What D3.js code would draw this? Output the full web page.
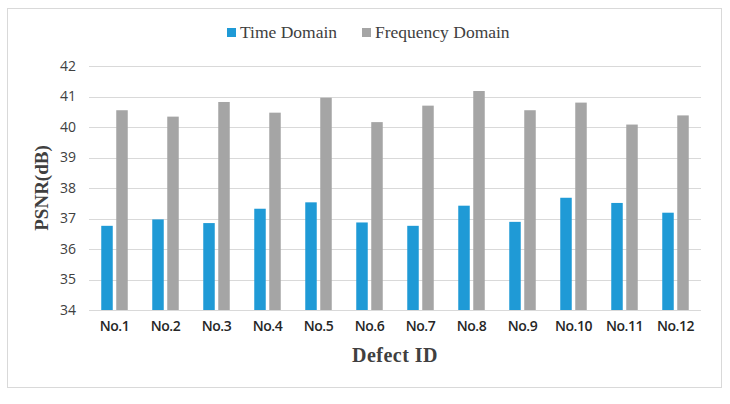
<!DOCTYPE html>
<html><head><meta charset="utf-8">
<script src="https://cdn.jsdelivr.net/npm/d3@7"></script>
<style>body{margin:0;background:#fff}svg{display:block}</style>
</head><body><svg id="c" width="730" height="404"></svg>
<script>
const categories = ["No.1","No.2","No.3","No.4","No.5","No.6","No.7","No.8","No.9","No.10","No.11","No.12"];
const timeDomain = [36.76,36.97,36.85,37.32,37.53,36.87,36.76,37.42,36.89,37.68,37.51,37.19];
const freqDomain = [40.55,40.34,40.82,40.47,40.96,40.16,40.70,41.18,40.55,40.80,40.08,40.38];
const seriesNames = ["Time Domain","Frequency Domain"];
const yTicks = [34,35,36,37,38,39,40,41,42];

const colors = ["#1F9AD6","#A5A5A5"];
const svg = d3.select("#c");
svg.append("rect").attr("x",7.5).attr("y",8.5).attr("width",714).attr("height",379)
  .attr("fill","#fff").attr("stroke","#D9D9D9").attr("stroke-width",1);

const m = {l:89, r:701, t:66, b:310};
const x = d3.scaleBand().domain(categories).range([m.l,m.r]).paddingInner(0).paddingOuter(0);
const y = d3.scaleLinear().domain([34,42]).range([m.b,m.t]);

// grid
svg.append("g").selectAll("line").data(yTicks).join("line")
  .attr("x1",m.l).attr("x2",m.r).attr("y1",d=>Math.round(y(d))+0.5).attr("y2",d=>Math.round(y(d))+0.5)
  .attr("stroke","#D9D9D9").attr("stroke-width",1);

// y axis labels
const yAxis = d3.axisLeft(y).tickValues(yTicks).tickSize(0).tickPadding(13);
const yg = svg.append("g").attr("transform",`translate(${m.l},0)`).call(yAxis);
yg.select(".domain").remove();
yg.selectAll("text").attr("font-family","'Open Sans', 'Liberation Sans', sans-serif").attr("font-size",14).attr("fill","#404040");

// x axis labels
const xAxis = d3.axisBottom(x).tickSize(0).tickPadding(11);
const xg = svg.append("g").attr("transform",`translate(0,${m.b})`).call(xAxis);
xg.select(".domain").remove();
xg.selectAll("text").attr("font-family","'Open Sans', 'Liberation Sans', sans-serif").attr("font-size",14)
  .attr("font-weight",600).attr("fill","#262626").attr("letter-spacing","-0.5");

const barW = 11.5, gap = 3.5;
const data = [timeDomain, freqDomain];
data.forEach((vals,si)=>{
  svg.append("g").selectAll("rect").data(vals).join("rect")
    .attr("x",(d,i)=> x(categories[i]) + x.bandwidth()/2 - gap/2 - barW + si*(barW+gap))
    .attr("y",d=>y(d)).attr("width",barW).attr("height",d=>y(34)-y(d))
    .attr("fill",colors[si]);
});

// axis titles
svg.append("text").attr("x",(m.l+m.r)/2).attr("y",362).attr("text-anchor","middle")
  .attr("font-family","'Liberation Serif', serif").attr("font-weight","bold").attr("font-size",20)
  .attr("fill","#404040").attr("letter-spacing","0.5").text("Defect ID");
svg.append("text").attr("transform",`translate(48,${(m.t+m.b)/2}) rotate(-90)`).attr("text-anchor","middle")
  .attr("font-family","'Liberation Serif', serif").attr("font-weight","bold").attr("font-size",19)
  .attr("fill","#404040").text("PSNR(dB)");

// legend
const leg = svg.append("g");
const legItems = [{x:227,name:seriesNames[0],c:colors[0]},{x:362,name:seriesNames[1],c:colors[1]}];
legItems.forEach(it=>{
  leg.append("rect").attr("x",it.x).attr("y",28).attr("width",9).attr("height",9).attr("fill",it.c);
  leg.append("text").attr("x",it.x+13).attr("y",38).attr("font-family","'Liberation Serif', serif")
    .attr("font-size",17.5).attr("fill","#404040").text(it.name);
});
</script></body></html>
